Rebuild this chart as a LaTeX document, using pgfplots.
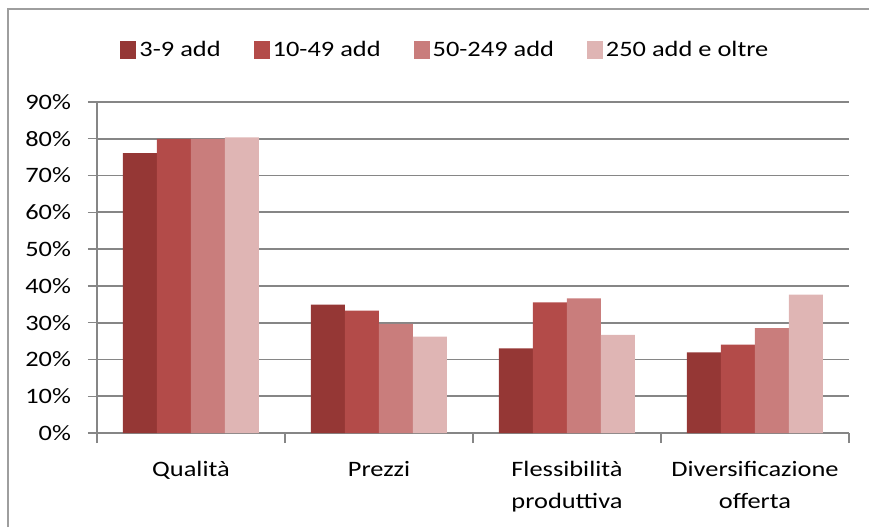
\documentclass[border=0pt]{standalone}
\usepackage{fontspec}
\setmainfont{Carlito}[FakeStretch=1.2]
\usepackage{pgfplots}
\pgfplotsset{compat=1.18}
\definecolor{cA}{HTML}{953735}
\definecolor{cB}{HTML}{B34B49}
\definecolor{cC}{HTML}{C97D7C}
\definecolor{cD}{HTML}{DFB5B4}
\definecolor{gridg}{HTML}{868686}
\begin{document}
\begin{tikzpicture}
\path[use as bounding box] (0,0) rectangle (434.5pt,263.5pt);
\draw[gridg!80, line width=0.7pt] (4pt,0pt) -- (4pt,259pt) -- (434.5pt,259pt);
\begin{axis}[
  at={(48.5pt,47pt)}, anchor=south west,
  scale only axis, width=376pt, height=165.5pt,
  xmin=-0.5, xmax=3.5, ymin=0, ymax=90,
  ybar=0pt, bar width=17pt,
  axis x line=bottom, axis y line=left,
  axis line style={-, gridg, line width=0.7pt},
  xtick={0,1,2,3},
  xticklabels={Qualità, Prezzi, {Flessibilità\\produttiva}, {Diversificazione\\offerta}},
  xticklabel style={align=center, font=\fontsize{11}{16}\selectfont, yshift=-6pt},
  major x tick style={draw=none},
  minor xtick={-0.5,0.5,1.5,2.5,3.5},
  minor tick length=5pt,
  minor x tick style={gridg, line width=0.7pt},
  ytick={0,10,...,90},
  yticklabels={0\%,10\%,20\%,30\%,40\%,50\%,60\%,70\%,80\%,90\%},
  yticklabel style={font=\fontsize{11}{13}\selectfont, xshift=-5pt},
  tick align=outside, major tick length=4.5pt,
  major y tick style={gridg, line width=0.7pt},
  ymajorgrids, grid style={gridg, line width=0.9pt},
  legend style={at={(rel axis cs:0.464,1.157)}, anchor=center, draw=none,
    legend columns=4, font=\fontsize{11}{13}\selectfont,
    /tikz/every even column/.append style={column sep=15pt},
    nodes={inner xsep=1.5pt}},
  legend image code/.code={\fill[#1] (0pt,-4.5pt) rectangle (8pt,4.5pt);},
]
\addplot[fill=cA, draw=none] coordinates {(0,76.1) (1,34.9) (2,23.0) (3,21.9)};
\addplot[fill=cB, draw=none] coordinates {(0,80.0) (1,33.3) (2,35.5) (3,24.0)};
\addplot[fill=cC, draw=none] coordinates {(0,80.0) (1,29.7) (2,36.6) (3,28.5)};
\addplot[fill=cD, draw=none] coordinates {(0,80.4) (1,26.2) (2,26.7) (3,37.6)};
\legend{3-9 add, 10-49 add, 50-249 add, 250 add e oltre}
\end{axis}
\end{tikzpicture}
\end{document}
